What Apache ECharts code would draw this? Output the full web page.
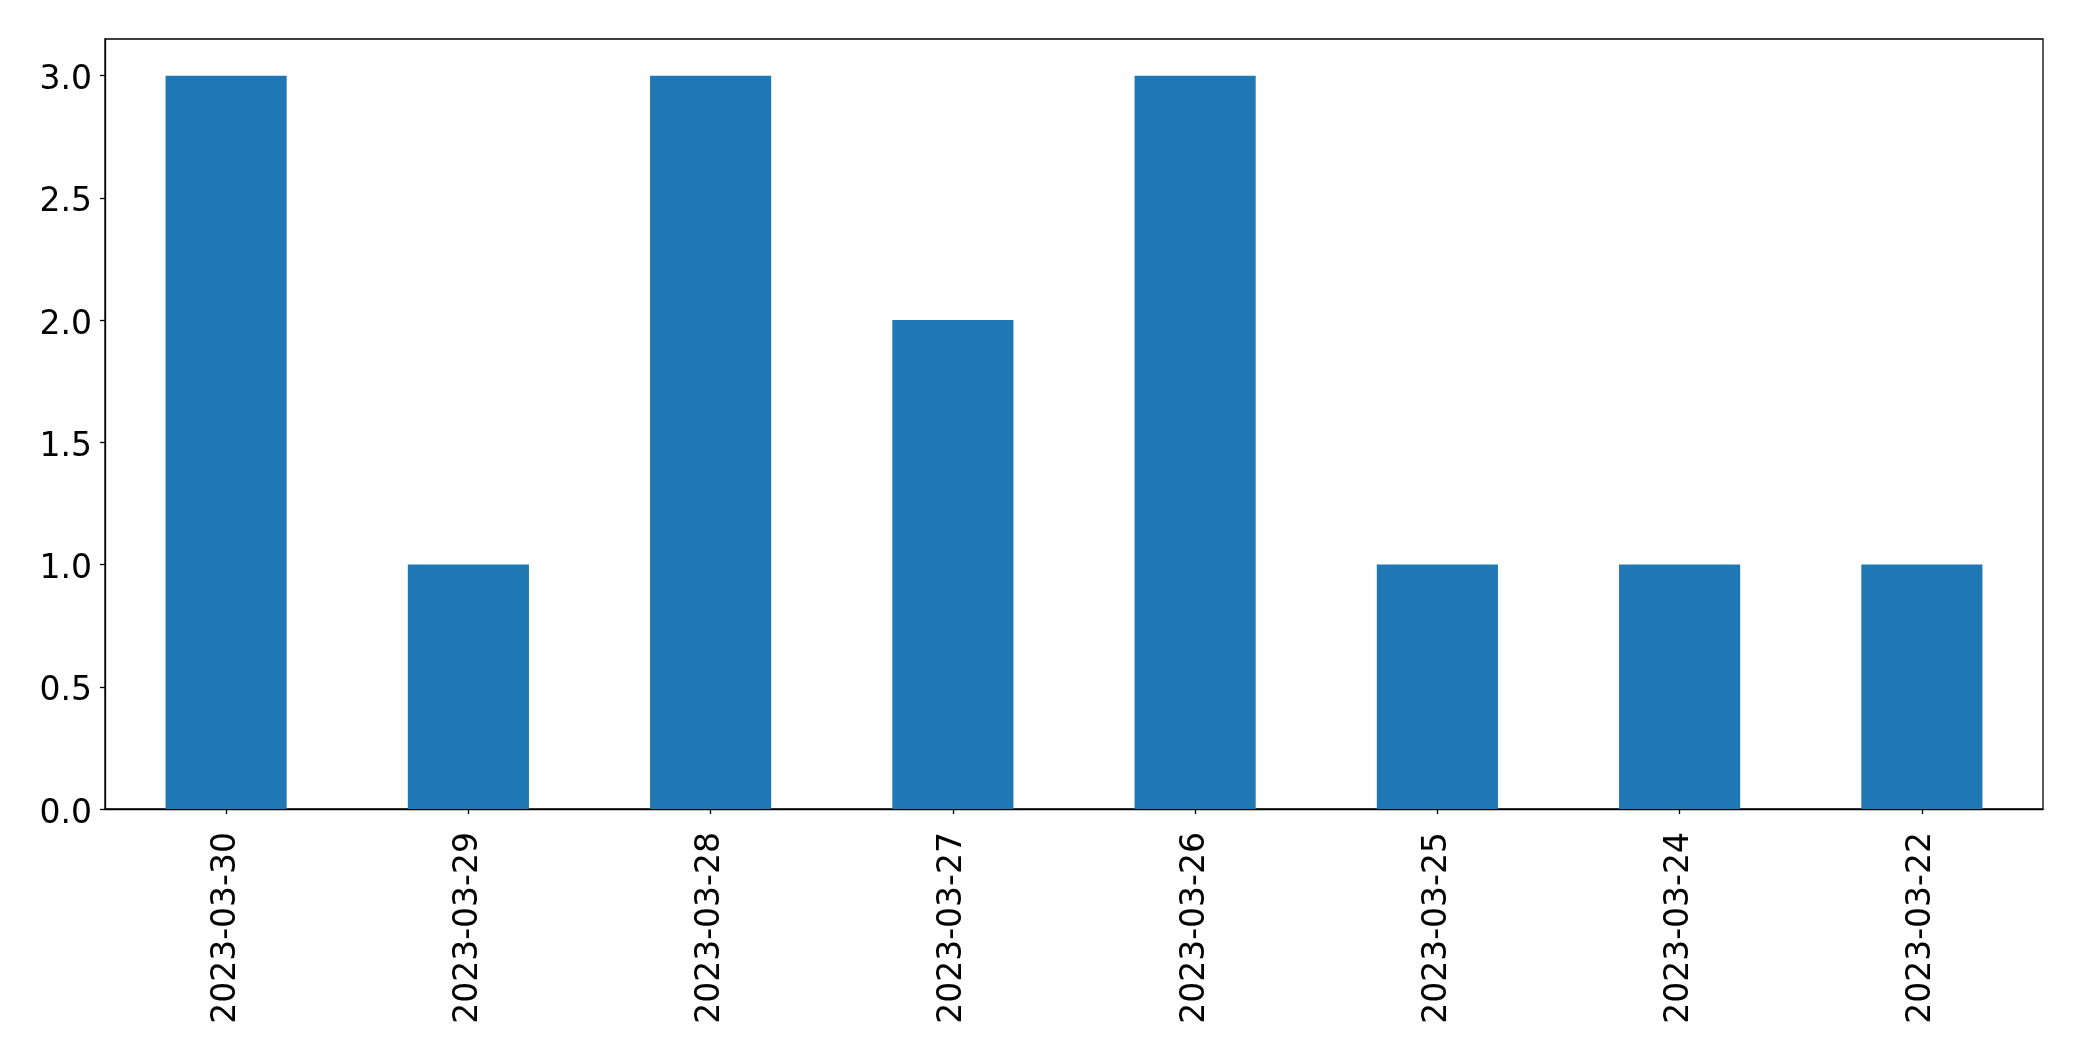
<!DOCTYPE html>
<html><head><meta charset="utf-8">
<script src="https://cdn.jsdelivr.net/npm/echarts@6/dist/echarts.min.js"></script>
<style>html,body{margin:0;padding:0;background:#fff}#c{width:2082px;height:1061px}</style>
</head><body><div id="c"></div>
<script>
const categories = ['2023-03-30','2023-03-29','2023-03-28','2023-03-27','2023-03-26','2023-03-25','2023-03-24','2023-03-22'];
const values = [3, 1, 3, 2, 3, 1, 1, 1];
const yTicks = [0, 0.5, 1.0, 1.5, 2.0, 2.5, 3.0];

const chart = echarts.init(document.getElementById('c'), null, {renderer: 'canvas'});
const font = 'DejaVu Sans';
chart.setOption({
  animation: false,
  backgroundColor: '#fff',
  grid: {left: 105, right: 39, top: 39, bottom: 252, show: true, borderColor: '#000', borderWidth: 1.3, backgroundColor: 'transparent'},
  xAxis: {
    type: 'category', data: categories,
    axisLine: {show: true, lineStyle: {color: '#000', width: 1.3}},
    axisTick: {show: true, alignWithLabel: true, length: 5, lineStyle: {color: '#000', width: 1.3}},
    axisLabel: {rotate: 90, color: '#000', fontFamily: font, fontSize: 33, margin: 23, interval: 0}
  },
  yAxis: {
    type: 'value', min: 0, max: 3.15,
    splitLine: {show: false},
    axisLine: {show: true, lineStyle: {color: '#000', width: 1.3}},
    axisTick: {show: true, length: 5, customValues: yTicks, lineStyle: {color: '#000', width: 1.3}},
    axisLabel: {color: '#000', fontFamily: font, fontSize: 33, margin: 13,
      customValues: yTicks, formatter: v => '{v|' + Number(v).toFixed(1) + '}',
      rich: {v: {color: '#000', fontFamily: font, fontSize: 33, padding: [10, 0, 0, 0]}}}
  },
  series: [{type: 'bar', data: values, barWidth: '50%', itemStyle: {color: '#1f77b4'}}]
});
</script></body></html>
